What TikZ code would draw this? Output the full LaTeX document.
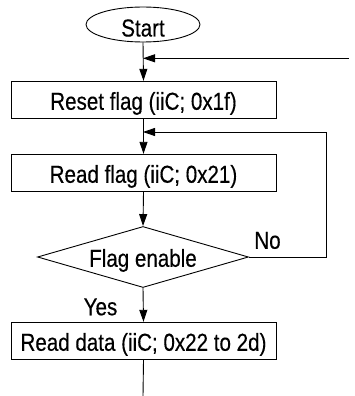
\documentclass[tikz,border=0pt]{standalone}
\usepackage{fontspec}
\setmainfont[FakeStretch=0.84,FakeBold=0.35]{Liberation Sans}
\usetikzlibrary{arrows.meta,shapes.geometric}
\begin{document}
\begin{tikzpicture}[x=1pt,y=-1pt,
  line width=0.9pt,
  font=\fontsize{24.5}{27}\selectfont,
  every node/.style={text height=17.5pt,text depth=0pt,inner sep=0pt},
  tip/.style={-{Triangle[length=12pt,width=8pt]}},
  procbox/.style={draw,rectangle,minimum width=265pt,minimum height=37.5pt},
  termnode/.style={draw,ellipse,minimum width=114pt,minimum height=35pt,text height=24pt},
  decision/.style={draw,diamond,aspect=3.5,minimum width=211pt,minimum height=61pt}]
\useasboundingbox (0,0) rectangle (354,396);
\node[termnode] (start) at (143,24.5) {Start};
\node[procbox] (reset) at (143.5,100) {\raisebox{-1pt}{Reset flag (iiC; 0x1f)}};
\node[procbox] (readflag) at (143.5,173) {\raisebox{-1pt}{Read flag (iiC; 0x21)}};
\node[decision] (dec) at (143,257) {\raisebox{-1pt}{Flag enable}};
\node[procbox] (readdata) at (143.5,341) {\raisebox{-1pt}{Read data (iiC; 0x22 to 2d)}};
\coordinate (j1) at (143,58.3);
\coordinate (in1) at (349,58.3);
\coordinate (j2) at (143,132);
\coordinate (rc) at (326,257);
\coordinate (rt) at (326,132);
\coordinate (endp) at (143,396);
\draw[tip] (start.south) -- (reset.north);
\draw[tip] (in1) -- (j1);
\draw[tip] (reset.south) -- (readflag.north);
\draw[tip] (dec.east) -- (rc) -- (rt) -- (j2);
\draw[tip] (readflag.south) -- (dec.north);
\draw[tip] (dec.south) -- (readdata.north);
\draw (readdata.south) -- (endp);
\node (no) at (267.5,240) {No};
\node (yes) at (100.5,306.5) {Yes};
\end{tikzpicture}
\end{document}
